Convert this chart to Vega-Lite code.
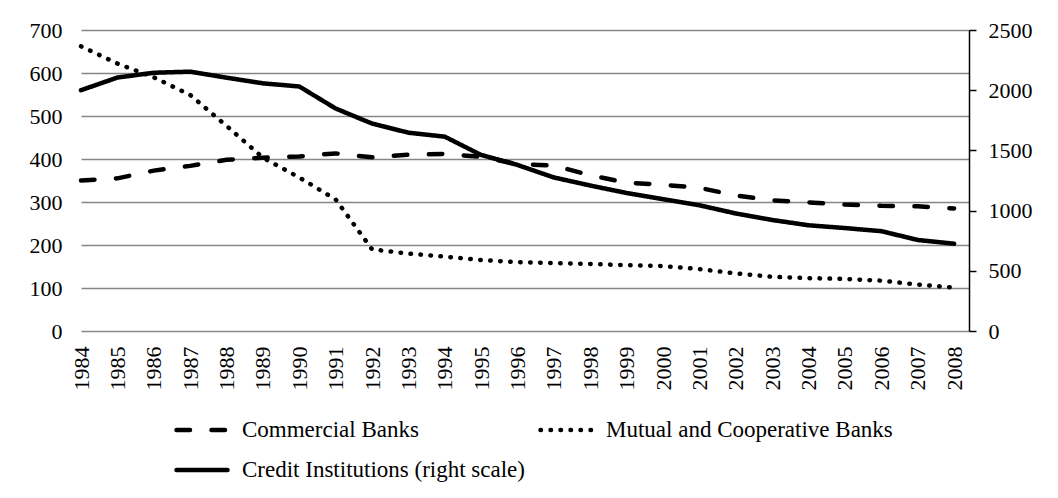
{
  "$schema": "https://vega.github.io/schema/vega-lite/v6.json",
  "width": 888,
  "height": 301,
  "autosize": {"type": "none"},
  "padding": {"left": 81, "top": 30, "right": 89, "bottom": 167},
  "background": "white",
  "config": {
    "font": "Liberation Serif",
    "view": {"stroke": null},
    "axis": {"labelFont": "Liberation Serif", "labelFontSize": 22, "labelColor": "black", "titleColor": "black"},
    "legend": {
      "orient": "none",
      "legendX": 93,
      "legendY": 372,
      "direction": "horizontal",
      "columns": 2,
      "symbolType": "stroke",
      "symbolSize": 2601,
      "symbolStrokeWidth": 4.5,
      "symbolStrokeColor": "black",
      "labelFont": "Liberation Serif",
      "labelFontSize": 23,
      "labelColor": "black",
      "labelOffset": 12,
      "labelLimit": 0,
      "rowPadding": -13,
      "columnPadding": 6
    }
  },
  "data": {
    "values": [
      {"year": 1984, "series": "Commercial Banks", "number": 350},
      {"year": 1985, "series": "Commercial Banks", "number": 355},
      {"year": 1986, "series": "Commercial Banks", "number": 373},
      {"year": 1987, "series": "Commercial Banks", "number": 384},
      {"year": 1988, "series": "Commercial Banks", "number": 398},
      {"year": 1989, "series": "Commercial Banks", "number": 403},
      {"year": 1990, "series": "Commercial Banks", "number": 406},
      {"year": 1991, "series": "Commercial Banks", "number": 413},
      {"year": 1992, "series": "Commercial Banks", "number": 404},
      {"year": 1993, "series": "Commercial Banks", "number": 410},
      {"year": 1994, "series": "Commercial Banks", "number": 412},
      {"year": 1995, "series": "Commercial Banks", "number": 405},
      {"year": 1996, "series": "Commercial Banks", "number": 388},
      {"year": 1997, "series": "Commercial Banks", "number": 385},
      {"year": 1998, "series": "Commercial Banks", "number": 362},
      {"year": 1999, "series": "Commercial Banks", "number": 345},
      {"year": 2000, "series": "Commercial Banks", "number": 340},
      {"year": 2001, "series": "Commercial Banks", "number": 333},
      {"year": 2002, "series": "Commercial Banks", "number": 315},
      {"year": 2003, "series": "Commercial Banks", "number": 304},
      {"year": 2004, "series": "Commercial Banks", "number": 299},
      {"year": 2005, "series": "Commercial Banks", "number": 294},
      {"year": 2006, "series": "Commercial Banks", "number": 291},
      {"year": 2007, "series": "Commercial Banks", "number": 290},
      {"year": 2008, "series": "Commercial Banks", "number": 285},
      {"year": 1984, "series": "Mutual and Cooperative Banks", "number": 662},
      {"year": 1985, "series": "Mutual and Cooperative Banks", "number": 622},
      {"year": 1986, "series": "Mutual and Cooperative Banks", "number": 590},
      {"year": 1987, "series": "Mutual and Cooperative Banks", "number": 549},
      {"year": 1988, "series": "Mutual and Cooperative Banks", "number": 477},
      {"year": 1989, "series": "Mutual and Cooperative Banks", "number": 403},
      {"year": 1990, "series": "Mutual and Cooperative Banks", "number": 357},
      {"year": 1991, "series": "Mutual and Cooperative Banks", "number": 306},
      {"year": 1992, "series": "Mutual and Cooperative Banks", "number": 190},
      {"year": 1993, "series": "Mutual and Cooperative Banks", "number": 180},
      {"year": 1994, "series": "Mutual and Cooperative Banks", "number": 173},
      {"year": 1995, "series": "Mutual and Cooperative Banks", "number": 165},
      {"year": 1996, "series": "Mutual and Cooperative Banks", "number": 160},
      {"year": 1997, "series": "Mutual and Cooperative Banks", "number": 158},
      {"year": 1998, "series": "Mutual and Cooperative Banks", "number": 156},
      {"year": 1999, "series": "Mutual and Cooperative Banks", "number": 153},
      {"year": 2000, "series": "Mutual and Cooperative Banks", "number": 151},
      {"year": 2001, "series": "Mutual and Cooperative Banks", "number": 144},
      {"year": 2002, "series": "Mutual and Cooperative Banks", "number": 134},
      {"year": 2003, "series": "Mutual and Cooperative Banks", "number": 126},
      {"year": 2004, "series": "Mutual and Cooperative Banks", "number": 123},
      {"year": 2005, "series": "Mutual and Cooperative Banks", "number": 121},
      {"year": 2006, "series": "Mutual and Cooperative Banks", "number": 117},
      {"year": 2007, "series": "Mutual and Cooperative Banks", "number": 108},
      {"year": 2008, "series": "Mutual and Cooperative Banks", "number": 101},
      {"year": 1984, "series": "Credit Institutions (right scale)", "number": 2000},
      {"year": 1985, "series": "Credit Institutions (right scale)", "number": 2105},
      {"year": 1986, "series": "Credit Institutions (right scale)", "number": 2145},
      {"year": 1987, "series": "Credit Institutions (right scale)", "number": 2154},
      {"year": 1988, "series": "Credit Institutions (right scale)", "number": 2104},
      {"year": 1989, "series": "Credit Institutions (right scale)", "number": 2057},
      {"year": 1990, "series": "Credit Institutions (right scale)", "number": 2031},
      {"year": 1991, "series": "Credit Institutions (right scale)", "number": 1848},
      {"year": 1992, "series": "Credit Institutions (right scale)", "number": 1723},
      {"year": 1993, "series": "Credit Institutions (right scale)", "number": 1647},
      {"year": 1994, "series": "Credit Institutions (right scale)", "number": 1614},
      {"year": 1995, "series": "Credit Institutions (right scale)", "number": 1462},
      {"year": 1996, "series": "Credit Institutions (right scale)", "number": 1379},
      {"year": 1997, "series": "Credit Institutions (right scale)", "number": 1275},
      {"year": 1998, "series": "Credit Institutions (right scale)", "number": 1208},
      {"year": 1999, "series": "Credit Institutions (right scale)", "number": 1146},
      {"year": 2000, "series": "Credit Institutions (right scale)", "number": 1095},
      {"year": 2001, "series": "Credit Institutions (right scale)", "number": 1044},
      {"year": 2002, "series": "Credit Institutions (right scale)", "number": 976},
      {"year": 2003, "series": "Credit Institutions (right scale)", "number": 922},
      {"year": 2004, "series": "Credit Institutions (right scale)", "number": 878},
      {"year": 2005, "series": "Credit Institutions (right scale)", "number": 855},
      {"year": 2006, "series": "Credit Institutions (right scale)", "number": 829},
      {"year": 2007, "series": "Credit Institutions (right scale)", "number": 756},
      {"year": 2008, "series": "Credit Institutions (right scale)", "number": 725}
    ]
  },
  "encoding": {
    "x": {
      "field": "year",
      "type": "quantitative",
      "scale": {"domain": [1984, 2008.41], "nice": false, "zero": false},
      "axis": {
        "title": null,
        "values": [1984,1985,1986,1987,1988,1989,1990,1991,1992,1993,1994,1995,1996,1997,1998,1999,2000,2001,2002,2003,2004,2005,2006,2007,2008],
        "format": "d",
        "labelAngle": 270,
        "labelAlign": "right",
        "labelBaseline": "middle",
        "labelPadding": 15,
        "ticks": false,
        "tickSize": 0,
        "domain": false,
        "grid": false,
        "labelOverlap": false
      }
    },
    "strokeDash": {
      "field": "series",
      "type": "nominal",
      "scale": {
        "domain": ["Commercial Banks", "Mutual and Cooperative Banks", "Credit Institutions (right scale)"],
        "range": [[13.5, 21.5], [0.5, 9.5], [1, 0]]
      },
      "legend": {
        "title": null,
        "encode": {"symbols": {"update": {"strokeCap": {"value": "round"}}}}
      }
    }
  },
  "layer": [
    {
      "transform": [{"filter": "datum.series !== 'Credit Institutions (right scale)'"}],
      "mark": {"type": "line", "color": "black", "strokeWidth": 4.5, "strokeCap": "round"},
      "encoding": {
        "y": {
          "field": "number",
          "type": "quantitative",
          "scale": {"domain": [0, 700], "nice": false},
          "axis": {
            "title": null,
            "orient": "left",
            "values": [0, 100, 200, 300, 400, 500, 600, 700],
            "format": "d",
            "domain": false,
            "ticks": false,
            "tickSize": 0,
            "labelPadding": 19,
            "grid": true,
            "gridColor": "#868686",
            "gridWidth": 1.3
          }
        }
      }
    },
    {
      "transform": [{"filter": "datum.series === 'Credit Institutions (right scale)'"}],
      "mark": {"type": "line", "color": "black", "strokeWidth": 4.5, "strokeCap": "round"},
      "encoding": {
        "y": {
          "field": "number",
          "type": "quantitative",
          "scale": {"domain": [0, 2500], "nice": false},
          "axis": {
            "title": null,
            "orient": "right",
            "values": [0, 500, 1000, 1500, 2000, 2500],
            "format": "d",
            "domain": true,
            "domainColor": "black",
            "domainWidth": 1.5,
            "ticks": true,
            "tickColor": "black",
            "tickWidth": 1.5,
            "tickSize": 7,
            "labelPadding": 12,
            "grid": false
          }
        }
      }
    }
  ],
  "resolve": {"scale": {"y": "independent"}}
}
